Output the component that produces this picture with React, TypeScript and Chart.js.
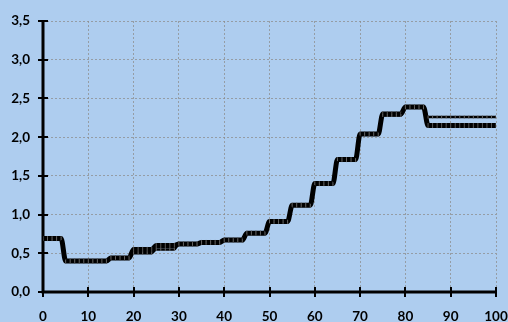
import React, { useEffect, useRef } from 'react';
import { Chart, registerables } from 'chart.js';

Chart.register(...registerables);

const X_TICKS = [0, 10, 20, 30, 40, 50, 60, 70, 80, 90, 100];
const Y_TICKS = [0, 0.5, 1.0, 1.5, 2.0, 2.5, 3.0, 3.5];

// values at x = 0, 1, 2, ... 100
const SERIES_THIN = [
  0.69, 0.69, 0.69, 0.69, 0.69,
  0.40, 0.40, 0.40, 0.40, 0.40, 0.40, 0.40, 0.40, 0.40, 0.40,
  0.44, 0.44, 0.44, 0.44, 0.44,
  0.50, 0.50, 0.50, 0.50, 0.50,
  0.55, 0.55, 0.55, 0.55, 0.55,
  0.62, 0.62, 0.62, 0.62, 0.62,
  0.64, 0.64, 0.64, 0.64, 0.64,
  0.67, 0.67, 0.67, 0.67, 0.67,
  0.76, 0.76, 0.76, 0.76, 0.76,
  0.91, 0.91, 0.91, 0.91, 0.91,
  1.12, 1.12, 1.12, 1.12, 1.12,
  1.40, 1.40, 1.40, 1.40, 1.40,
  1.71, 1.71, 1.71, 1.71, 1.71,
  2.04, 2.04, 2.04, 2.04, 2.04,
  2.28, 2.28, 2.28, 2.28, 2.28,
  2.38, 2.38, 2.38, 2.38, 2.38,
  2.26, 2.26, 2.26, 2.26, 2.26, 2.26, 2.26, 2.26,
  2.26, 2.26, 2.26, 2.26, 2.26, 2.26, 2.26, 2.26,
];

const SERIES_THICK = [
  0.69, 0.69, 0.69, 0.69, 0.69,
  0.40, 0.40, 0.40, 0.40, 0.40, 0.40, 0.40, 0.40, 0.40, 0.40,
  0.44, 0.44, 0.44, 0.44, 0.44,
  0.55, 0.55, 0.55, 0.55, 0.55,
  0.60, 0.60, 0.60, 0.60, 0.60,
  0.62, 0.62, 0.62, 0.62, 0.62,
  0.64, 0.64, 0.64, 0.64, 0.64,
  0.67, 0.67, 0.67, 0.67, 0.67,
  0.76, 0.76, 0.76, 0.76, 0.76,
  0.91, 0.91, 0.91, 0.91, 0.91,
  1.12, 1.12, 1.12, 1.12, 1.12,
  1.40, 1.40, 1.40, 1.40, 1.40,
  1.71, 1.71, 1.71, 1.71, 1.71,
  2.04, 2.04, 2.04, 2.04, 2.04,
  2.30, 2.30, 2.30, 2.30, 2.30,
  2.39, 2.39, 2.39, 2.39, 2.39,
  2.15, 2.15, 2.15, 2.15, 2.15, 2.15, 2.15, 2.15,
  2.15, 2.15, 2.15, 2.15, 2.15, 2.15, 2.15, 2.15,
];

const BG = '#aecdef';

const toPoints = (arr: number[]) => arr.map((v, i) => ({ x: i, y: v }));
const fmt = (v: number) => v.toFixed(1).replace('.', ',');

const axesPlugin = {
  id: 'excelAxes',
  beforeDatasetsDraw(chart: any) {
    const { ctx, chartArea, scales } = chart;
    const x = scales.x;
    const y = scales.y;
    ctx.save();
    ctx.strokeStyle = '#000';
    ctx.lineWidth = 3;
    ctx.beginPath();
    ctx.moveTo(chartArea.left, chartArea.top);
    ctx.lineTo(chartArea.left, chartArea.bottom + 1.5);
    ctx.moveTo(chartArea.left - 1.5, chartArea.bottom);
    ctx.lineTo(chartArea.right, chartArea.bottom);
    ctx.stroke();
    ctx.lineWidth = 2;
    ctx.beginPath();
    Y_TICKS.forEach((v) => {
      const py = Math.round(y.getPixelForValue(v));
      ctx.moveTo(chartArea.left - 5, py);
      ctx.lineTo(chartArea.left + 5, py);
    });
    X_TICKS.forEach((v) => {
      const px = Math.round(x.getPixelForValue(v));
      ctx.moveTo(px, chartArea.bottom - 5);
      ctx.lineTo(px, chartArea.bottom + 5);
    });
    ctx.stroke();
    ctx.restore();
  },
};

export default function App() {
  const ref = useRef<HTMLCanvasElement | null>(null);

  useEffect(() => {
    if (!ref.current) return;
    const tickFont = { family: 'Lato', weight: 'bold' as const, size: 13.5 };
    const chart = new Chart(ref.current, {
      type: 'line',
      data: {
        datasets: [
          {
            label: 'A',
            data: toPoints(SERIES_THIN),
            borderColor: '#000',
            borderWidth: 2.5,
            cubicInterpolationMode: 'monotone',
            pointStyle: 'line',
            rotation: 90,
            pointRadius: 1.5,
            pointBorderColor: '#666',
            pointBorderWidth: 1,
            pointHoverRadius: 0,
          },
          {
            label: 'B',
            data: toPoints(SERIES_THICK),
            borderColor: '#000',
            borderWidth: 5,
            cubicInterpolationMode: 'monotone',
            pointStyle: 'line',
            rotation: 90,
            pointRadius: 2.5,
            pointBorderColor: '#555',
            pointBorderWidth: 1,
            pointHoverRadius: 0,
          },
        ],
      },
      options: {
        responsive: false,
        animation: false,
        layout: { padding: { top: 21, right: 12, left: 0, bottom: 0 } },
        plugins: {
          legend: { display: false },
          tooltip: { enabled: false },
        },
        scales: {
          x: {
            type: 'linear',
            min: 0,
            max: 100,
            afterBuildTicks: (s: any) => {
              s.ticks = X_TICKS.map((v) => ({ value: v }));
            },
            afterFit: (s: any) => {
              s.height = 30;
              s.paddingLeft = 0;
              s.paddingRight = 0;
            },
            grid: {
              color: 'rgba(140,140,140,0.75)',
              lineWidth: 1,
              drawTicks: false,
            },
            border: { display: false, dash: [2, 2] },
            ticks: {
              color: '#000',
              font: tickFont,
              padding: 17,
              maxRotation: 0,
              autoSkip: false,
              callback: (v: any) => String(v),
            },
          },
          y: {
            type: 'linear',
            min: 0,
            max: 3.5,
            afterBuildTicks: (s: any) => {
              s.ticks = Y_TICKS.map((v) => ({ value: v }));
            },
            afterFit: (s: any) => {
              s.width = 43;
              s.paddingTop = 0;
              s.paddingBottom = 0;
            },
            grid: {
              color: 'rgba(140,140,140,0.75)',
              lineWidth: 1,
              drawTicks: false,
            },
            border: { display: false, dash: [2, 2] },
            ticks: {
              color: '#000',
              font: tickFont,
              padding: 13,
              autoSkip: false,
              callback: (v: any) => fmt(Number(v)),
            },
          },
        },
      },
      plugins: [axesPlugin],
    } as any);
    return () => chart.destroy();
  }, []);

  return (
    <div
      style={{
        position: 'fixed',
        left: 0,
        top: 0,
        width: 508,
        height: 322,
        background: BG,
        overflow: 'hidden',
      }}
    >
      <canvas ref={ref} width={508} height={322} style={{ display: 'block' }} />
    </div>
  );
}
